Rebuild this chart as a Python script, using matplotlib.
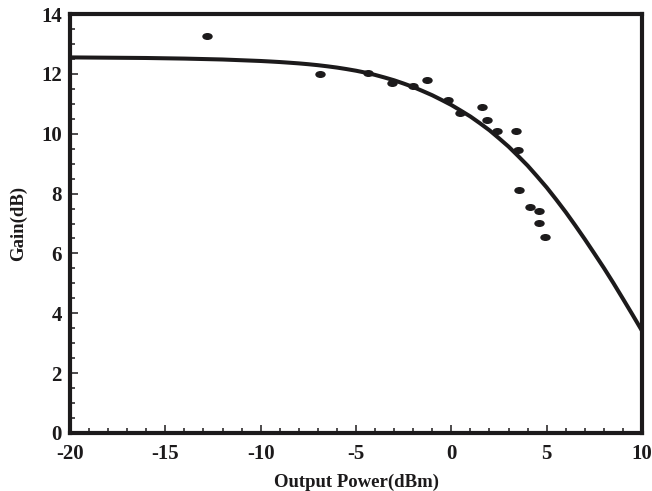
import matplotlib
matplotlib.use("Agg")
import matplotlib.pyplot as plt
from matplotlib.path import Path
from matplotlib.transforms import Affine2D
from matplotlib.ticker import MultipleLocator

# measured data points
meas_power = [-12.82, -6.89, -4.37, -3.11, -2.01, -1.28, -0.18, 0.45, 1.60, 1.87,
              2.39, 3.39, 3.49, 3.55, 4.12, 4.59, 4.59, 4.91]
meas_gain = [13.26, 11.99, 12.03, 11.69, 11.59, 11.79, 11.13, 10.69, 10.89, 10.46,
             10.09, 10.09, 9.46, 8.12, 7.55, 7.42, 7.02, 6.55]

# fitted curve
fit_power = [-20, -18, -16, -14, -12, -10, -9.5, -9, -8.5, -8, -7.5, -7, -6.5, -6,
             -5.5, -5, -4.5, -4, -3.5, -3, -2.5, -2, -1.5, -1, -0.5, 0, 0.5, 1,
             1.5, 2, 2.5, 3, 3.5, 4, 4.5, 5, 5.5, 6, 6.5, 7, 7.5, 8, 8.5, 9, 9.5, 10]
fit_gain = [12.55, 12.54, 12.53, 12.51, 12.48, 12.43, 12.413, 12.395, 12.373, 12.35,
            12.322, 12.29, 12.252, 12.21, 12.16, 12.105, 12.04, 11.965, 11.878,
            11.785, 11.676, 11.56, 11.425, 11.285, 11.125, 10.96, 10.77, 10.575,
            10.35, 10.115, 9.847, 9.57, 9.257, 8.935, 8.575, 8.205, 7.80, 7.38,
            6.935, 6.475, 5.998, 5.515, 5.01, 4.485, 3.955, 3.415]

plt.rcParams['font.family'] = ['Liberation Serif', 'DejaVu Serif']
plt.rcParams['font.weight'] = 'bold'
plt.rcParams['axes.unicode_minus'] = False

ink = '#1c1a1b'
fig = plt.figure(figsize=(6.52, 4.91), dpi=100)
ax = fig.add_axes([70/652, 1-433/491, 572/652, 419/491])

ax.plot(fit_power, fit_gain, color=ink, lw=2.9, solid_joinstyle='round', zorder=2)
ell = Path.unit_circle().transformed(Affine2D().scale(1.0, 0.62))
ax.plot(meas_power, meas_gain, linestyle='none', marker=ell, markersize=6.5,
        color=ink, zorder=3)

ax.set_xlim(-20, 10)
ax.set_ylim(0, 14)
ax.xaxis.set_major_locator(MultipleLocator(5))
ax.xaxis.set_minor_locator(MultipleLocator(1))
ax.yaxis.set_major_locator(MultipleLocator(2))
ax.yaxis.set_minor_locator(MultipleLocator(0.5))
ax.tick_params(which='both', direction='in', width=1.1, colors=ink,
               labelsize=15, labelcolor=ink)
ax.tick_params(which='major', length=6)
ax.tick_params(which='minor', length=3.3)
ax.tick_params(axis='y', which='major', pad=6)
ax.tick_params(axis='x', which='major', pad=8)
for s in ax.spines.values():
    s.set_linewidth(3.0)
    s.set_color(ink)
for lab in ax.get_xticklabels() + ax.get_yticklabels():
    lab.set_fontweight('bold')

ax.set_xlabel('Output Power(dBm)', fontsize=13.5, fontweight='bold', color=ink, labelpad=7)
ax.set_ylabel('Gain(dB)', fontsize=13.5, fontweight='bold', color=ink, labelpad=10)

fig.savefig('out.png', dpi=100)
